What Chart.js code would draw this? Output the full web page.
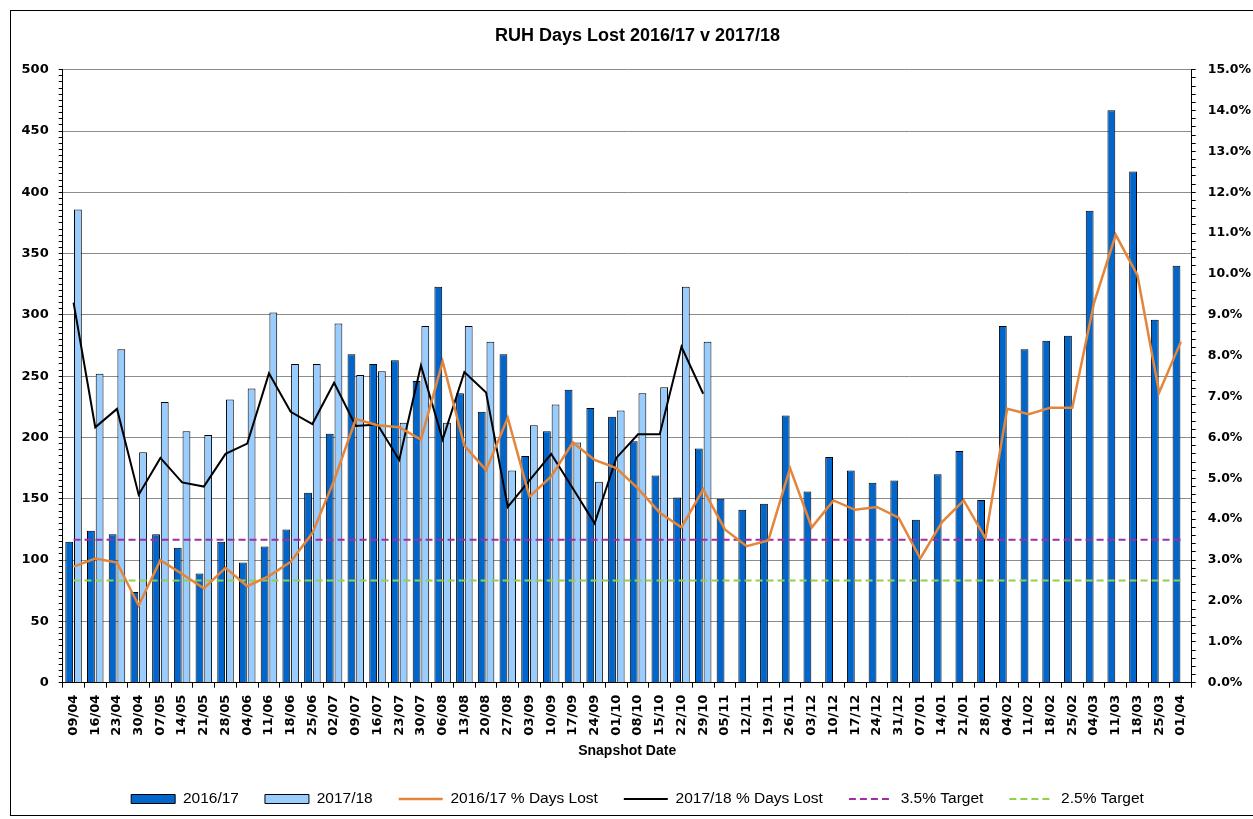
<!DOCTYPE html>
<html>
<head>
<meta charset="utf-8">
<title>RUH Days Lost 2016/17 v 2017/18</title>
<script src="https://cdn.jsdelivr.net/npm/chart.js@4.4.0/dist/chart.umd.min.js"></script>
<style>
    html, body { margin: 0; padding: 0; background: #fff; }
    #wrap { position: relative; width: 1253px; height: 819px; overflow: hidden; }
    #frame { position: absolute; left: 10px; top: 10px; width: 1250px; height: 806px; border: 1px solid #000; box-sizing: border-box; }
    #chart { position: absolute; left: 0; top: 0; }
</style>
</head>
<body>
<div id="wrap">
    <div id="frame"></div>
    <canvas id="chart" width="1253" height="819"></canvas>
</div>
<script>
/**=========================================================
 * RUH days lost, weekly snapshots 2016/17 against 2017/18
 * bars = days lost (left axis), lines = % days lost (right axis)
 =========================================================*/

var snapshotDates = [
    '09/04', '16/04', '23/04', '30/04', '07/05', '14/05', '21/05', '28/05',
    '04/06', '11/06', '18/06', '25/06', '02/07', '09/07', '16/07', '23/07',
    '30/07', '06/08', '13/08', '20/08', '27/08', '03/09', '10/09', '17/09',
    '24/09', '01/10', '08/10', '15/10', '22/10', '29/10', '05/11', '12/11',
    '19/11', '26/11', '03/12', '10/12', '17/12', '24/12', '31/12', '07/01',
    '14/01', '21/01', '28/01', '04/02', '11/02', '18/02', '25/02', '04/03',
    '11/03', '18/03', '25/03', '01/04'
];

var daysLost1617 = [
    115, 124, 121, 74, 121, 110, 89, 115, 98, 111, 125, 155, 203,
    268, 260, 263, 246, 323, 236, 221, 268, 185, 205, 239, 224, 217,
    197, 169, 151, 191, 150, 141, 146, 218, 156, 184, 173, 163, 165,
    133, 170, 189, 149, 291, 272, 279, 283, 385, 467, 417, 296, 340
];

// 2017/18 only runs to the end of October
var daysLost1718 = [
    386, 252, 272, 188, 229, 205, 202, 231, 240, 302, 260, 260, 293,
    251, 254, 212, 291, 212, 291, 278, 173, 210, 227, 196, 164, 222,
    236, 241, 323, 278
];

var pctLost1617 = [
    2.84, 3.04, 2.94, 1.89, 3.00, 2.66, 2.31, 2.81, 2.36, 2.61, 2.96, 3.66, 4.95,
    6.45, 6.30, 6.25, 5.95, 7.86, 5.80, 5.20, 6.48, 4.55, 5.05, 5.88, 5.45, 5.25,
    4.75, 4.16, 3.80, 4.73, 3.75, 3.34, 3.48, 5.25, 3.80, 4.46, 4.23, 4.30, 4.04,
    3.04, 3.93, 4.46, 3.54, 6.70, 6.57, 6.73, 6.73, 9.29, 10.96, 9.97, 7.10, 8.34
];

var pctLost1718 = [
    9.30, 6.25, 6.70, 4.60, 5.50, 4.90, 4.80, 5.60, 5.85, 7.57, 6.63, 6.33, 7.34,
    6.28, 6.32, 5.45, 7.76, 5.95, 7.60, 7.10, 4.30, 4.95, 5.60, 4.75, 3.90, 5.50,
    6.08, 6.08, 8.22, 7.07
];

var TARGET_HIGH = 3.5;
var TARGET_LOW = 2.5;

(function () {
    'use strict';

    var tickFont = { family: 'DejaVu Sans', size: 13, weight: 'bold' };
    var textFont = 'Liberation Sans';

    function flat(value) {
        return snapshotDates.map(function () { return value; });
    }

    function majorGrid(ctx) {
        if (ctx.tick && ctx.tick.value % 50 === 0)
            return '#8c8c8c';
        return 'rgba(0,0,0,0)';
    }

    // legend built straight from the datasets so the dashes survive
    function legendLabels(chart) {
        return chart.data.datasets.map(function (ds, i) {
            var isLine = ds.type === 'line';
            return {
                text: ds.label,
                fillStyle: isLine ? ds.borderColor : ds.backgroundColor,
                strokeStyle: ds.borderColor,
                lineWidth: isLine ? ds.borderWidth : 1,
                lineDash: ds.borderDash || [],
                pointStyle: isLine ? 'line' : 'rect',
                fontColor: '#000',
                hidden: !chart.isDatasetVisible(i),
                datasetIndex: i
            };
        });
    }

    var data = {
        labels: snapshotDates,
        datasets: [
            {
                type: 'bar',
                label: '2016/17',
                data: daysLost1617,
                backgroundColor: '#0066cc',
                borderColor: '#000',
                borderWidth: 1,
                yAxisID: 'y',
                order: 1
            },
            {
                type: 'bar',
                label: '2017/18',
                data: daysLost1718,
                backgroundColor: '#99ccff',
                borderColor: '#000',
                borderWidth: 1,
                yAxisID: 'y',
                order: 1
            },
            {
                type: 'line',
                label: '2016/17 % Days Lost',
                data: pctLost1617,
                borderColor: '#e3853a',
                borderWidth: 2.5,
                yAxisID: 'y1',
                order: 0
            },
            {
                type: 'line',
                label: '2017/18 % Days Lost',
                data: pctLost1718,
                borderColor: '#000',
                borderWidth: 2,
                yAxisID: 'y1',
                order: 0
            },
            {
                type: 'line',
                label: '3.5% Target',
                data: flat(TARGET_HIGH),
                borderColor: '#a02ca8',
                borderWidth: 2,
                borderDash: [7, 4],
                yAxisID: 'y1',
                order: 0
            },
            {
                type: 'line',
                label: '2.5% Target',
                data: flat(TARGET_LOW),
                borderColor: '#92d050',
                borderWidth: 2,
                borderDash: [7, 4],
                yAxisID: 'y1',
                order: 0
            }
        ]
    };

    var options = {
        responsive: false,
        maintainAspectRatio: false,
        animation: false,
        layout: { padding: { left: 22, right: 0, top: 0, bottom: 2.25 } },
        elements: {
            line: { tension: 0, fill: false },
            point: { radius: 0, hoverRadius: 0 }
        },
        plugins: {
            title: {
                display: true,
                text: 'RUH Days Lost 2016/17 v 2017/18',
                color: '#000',
                font: { family: textFont, size: 18, weight: 'bold', lineHeight: 1.2 },
                padding: { top: 25, bottom: 23.1 }
            },
            legend: {
                position: 'bottom',
                labels: {
                    usePointStyle: true,
                    pointStyleWidth: 44,
                    boxHeight: 9,
                    padding: 26,
                    color: '#000',
                    font: { family: textFont, size: 15.5 },
                    generateLabels: legendLabels
                }
            },
            tooltip: { enabled: false }
        },
        scales: {
            x: {
                offset: true,
                grid: {
                    offset: true,
                    drawOnChartArea: false,
                    tickLength: 5,
                    tickColor: '#000'
                },
                border: { color: '#000', width: 1 },
                ticks: {
                    autoSkip: false,
                    minRotation: 90,
                    maxRotation: 90,
                    padding: 7,
                    color: '#000',
                    font: tickFont
                },
                title: {
                    display: true,
                    text: 'Snapshot Date',
                    color: '#000',
                    font: { family: textFont, size: 14, weight: 'bold', lineHeight: 1.2 },
                    padding: { top: 0, bottom: 5.85 }
                },
                afterFit: function (scale) {
                    scale.height = 82.55;
                }
            },
            y: {
                position: 'left',
                min: 0,
                max: 500,
                grid: {
                    color: majorGrid,
                    tickColor: '#000',
                    tickLength: 4
                },
                border: { color: '#000', width: 1 },
                ticks: {
                    stepSize: 5,
                    maxTicksLimit: 200,
                    autoSkip: false,
                    padding: 10,
                    color: '#000',
                    font: tickFont,
                    callback: function (value) {
                        return value % 50 === 0 ? String(value) : '';
                    }
                },
                afterFit: function (scale) {
                    scale.width = 40.7;
                }
            },
            y1: {
                position: 'right',
                min: 0,
                max: 15,
                grid: {
                    drawOnChartArea: false,
                    tickColor: '#000',
                    tickLength: 4
                },
                border: { color: '#000', width: 1 },
                ticks: {
                    stepSize: 0.2,
                    maxTicksLimit: 200,
                    autoSkip: false,
                    padding: 12,
                    color: '#000',
                    font: { family: 'DejaVu Sans', size: 12.5, weight: 'bold' },
                    callback: function (value) {
                        if (Math.abs(value - Math.round(value)) < 1e-6)
                            return value.toFixed(1) + '%';
                        return '';
                    }
                },
                afterFit: function (scale) {
                    scale.width = 61.3;
                }
            }
        }
    };

    var ctx = document.getElementById('chart').getContext('2d');
    new Chart(ctx, { type: 'bar', data: data, options: options });

})();
</script>
</body>
</html>
